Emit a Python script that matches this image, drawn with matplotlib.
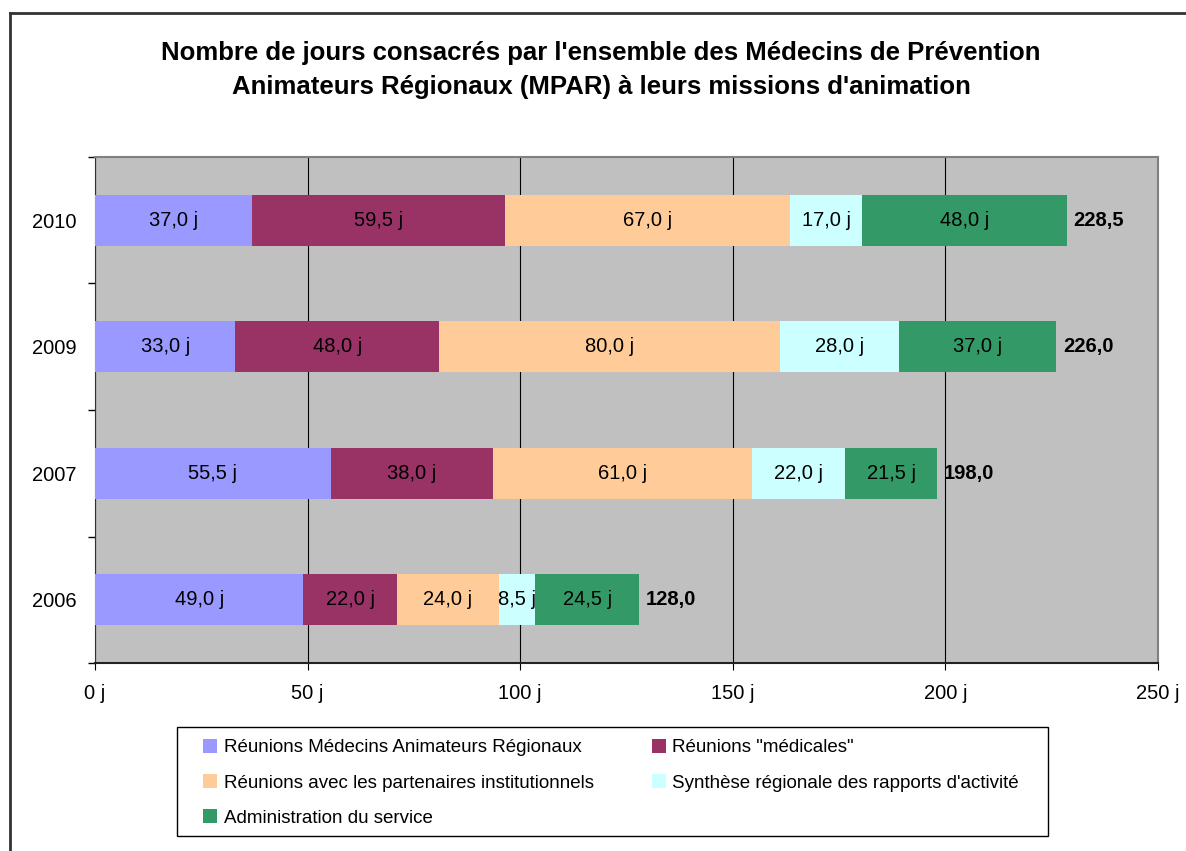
import numpy as np
import matplotlib.pyplot as plt
from matplotlib.lines import Line2D
from matplotlib.patches import Rectangle
from matplotlib.ticker import FixedLocator

plt.rcParams['font.family'] = ['Liberation Sans', 'DejaVu Sans']

# donnees
annees = ['2006', '2007', '2009', '2010']
reunions_mar = [49.0, 55.5, 33.0, 37.0]
reunions_medicales = [22.0, 38.0, 48.0, 59.5]
reunions_partenaires = [24.0, 61.0, 80.0, 67.0]
synthese = [8.5, 22.0, 28.0, 17.0]
administration = [24.5, 21.5, 37.0, 48.0]

series = [
    ("Réunions Médecins Animateurs Régionaux", reunions_mar, '#9999FF'),
    ('Réunions "médicales"', reunions_medicales, '#993366'),
    ("Réunions avec les partenaires institutionnels", reunions_partenaires, '#FFCC99'),
    ("Synthèse régionale des rapports d'activité", synthese, '#CCFFFF'),
    ("Administration du service", administration, '#339966'),
]

W, H = 1186, 851
fig = plt.figure(figsize=(W/100, H/100), dpi=100)
ax = fig.add_axes([95/W, 1 - 663/H, (1158 - 95)/W, (663 - 157)/H])
ax.set_facecolor('#C0C0C0')

y = np.arange(len(annees))
left = np.zeros(len(annees))
handles = []
for nom, vals, col in series:
    vals = np.array(vals)
    bars = ax.barh(y, vals, left=left, height=0.40, color=col, zorder=3, label=nom)
    for b, v in zip(bars, vals):
        ax.text(b.get_x() + b.get_width()/2, b.get_y() + b.get_height()/2,
                f"{v:.1f} j".replace('.', ','), ha='center', va='center',
                fontsize=14.5, zorder=4)
    handles.append(bars)
    left = left + vals

for yi, tot in zip(y, left):
    ax.annotate(f"{tot:.1f}".replace('.', ','), (tot, yi), xytext=(5, 0),
                textcoords='offset points', ha='left', va='center',
                fontsize=14.5, fontweight='bold')

ax.set_xlim(0, 250)
ax.set_ylim(-0.5, 3.5)
ax.set_xticks([0, 50, 100, 150, 200, 250])
ax.set_xticklabels(['0 j', '50 j', '100 j', '150 j', '200 j', '250 j'], fontsize=14.5)
ax.set_yticks(y)
ax.set_yticklabels(annees, fontsize=14.5)
ax.yaxis.set_minor_locator(FixedLocator(np.arange(-0.5, 4, 1)))
ax.tick_params(axis='y', which='major', length=0, pad=13)
ax.tick_params(axis='y', which='minor', length=5, direction='out', width=1)
ax.tick_params(axis='x', length=5, direction='out', pad=10)
ax.grid(axis='x', color='black', linewidth=0.8, zorder=1)

ax.spines['left'].set_color('#333333')
ax.spines['bottom'].set_color('#222222')
ax.spines['bottom'].set_linewidth(1.5)
ax.spines['top'].set_color('#808080')
ax.spines['right'].set_color('#808080')
ax.spines['top'].set_linewidth(1.5)
ax.spines['right'].set_linewidth(1.5)

fig.text(601/W, 1 - 53/H, "Nombre de jours consacrés par l'ensemble des Médecins de Prévention",
         ha='center', va='center', fontsize=18.5, fontweight='bold')
fig.text(601/W, 1 - 87/H, "Animateurs Régionaux (MPAR) à leurs missions d'animation",
         ha='center', va='center', fontsize=18.5, fontweight='bold')

# ordre par lignes dans une legende a 2 colonnes
order = [0, 2, 4, 1, 3]
leg = fig.legend([handles[i] for i in order], [series[i][0] for i in order],
                 loc='upper left', bbox_to_anchor=(203/W, 1 - 739/H),
                 ncol=2, fontsize=13.5, frameon=False,
                 handlelength=0.75, handleheight=0.75, handletextpad=0.35,
                 columnspacing=3.1, labelspacing=0.95, borderpad=0,
                 borderaxespad=0)
fig.add_artist(Rectangle((177/W, 1 - 836/H), (1048 - 177)/W, (836 - 727)/H,
                         transform=fig.transFigure, fill=False,
                         edgecolor='black', linewidth=1))

# cadre du graphique
fig.add_artist(Line2D([10/W, 10/W], [0, 1 - 13/H], color='#333333', linewidth=2))
fig.add_artist(Line2D([10/W, 1], [1 - 13/H, 1 - 13/H], color='#333333', linewidth=2))

fig.savefig('out.png', dpi=100)
